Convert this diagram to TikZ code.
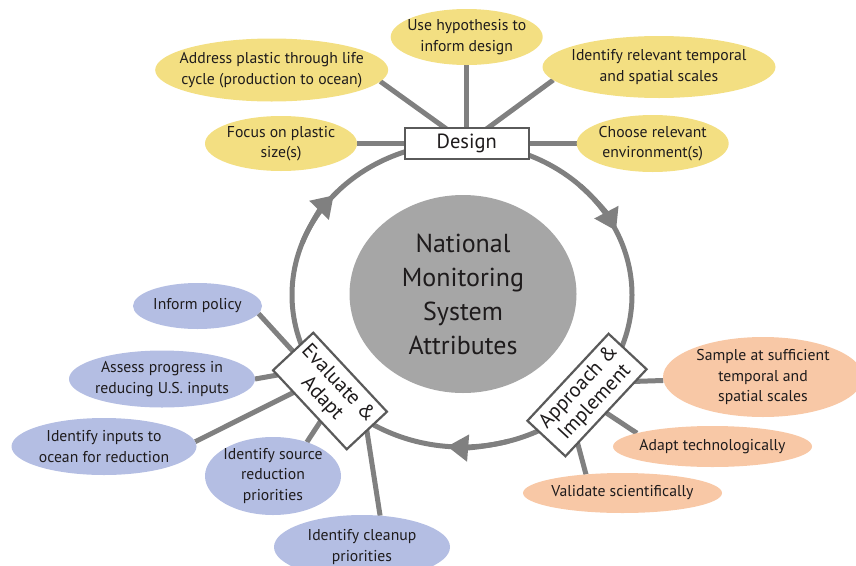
\documentclass[tikz,border=0pt]{standalone}
\usepackage{fontspec}
\setmainfont{PT Sans}
\usetikzlibrary{shapes.geometric,arrows.meta,calc,backgrounds}
\definecolor{yel}{RGB}{243,223,130}
\definecolor{blu}{RGB}{180,190,227}
\definecolor{org}{RGB}{248,200,166}
\definecolor{lgray}{RGB}{128,128,128}
\definecolor{cgray}{RGB}{166,166,166}
\definecolor{bgray}{RGB}{90,90,90}
\definecolor{txt}{RGB}{30,27,28}
\tikzset{
  bub/.style={ellipse, inner xsep=-300pt, inner ysep=-100pt, outer sep=0pt, align=center,
    text=txt, font=\fontsize{15.7}{20.5}\selectfont},
  ybub/.style={bub, fill=yel},
  bbub/.style={bub, fill=blu},
  obub/.style={bub, fill=org},
  conn/.style={draw=lgray, line width=5pt, shorten >=-3pt},
  ring/.style={draw=lgray, line width=5pt},
  ringarrow/.style={ring, -{Triangle[length=21pt,width=26pt]}},
  stagebox/.style={rectangle, draw=bgray, line width=2.2pt, fill=white, inner sep=0pt,
    outer sep=0pt, align=center, text=txt, font=\fontsize{20.5}{22}\selectfont},
  hub/.style={ellipse, fill=cgray, inner xsep=-300pt, inner ysep=-100pt, align=center,
    text=txt, font=\fontsize{26}{34}\selectfont},
}
\begin{document}
\begin{tikzpicture}[x=1pt,y=-1pt]
\useasboundingbox (0,0) rectangle (856,565);
\clip (0,0) rectangle (856,565);
\coordinate (rc) at (462,295);

% centre
\node[hub, minimum width=227pt, minimum height=198pt] (hubn) at (463,294)
  {National\\Monitoring\\System\\Attributes};

% stage boxes
\node[stagebox, minimum width=124pt, minimum height=31pt] (design) at (466.7,143.5) {Design};
\node[stagebox, minimum width=108pt, minimum height=55pt, rotate=-47] (ev) at (330,391)
  {Evaluate \&\\Adapt};
\node[stagebox, minimum width=119pt, minimum height=52pt, rotate=47] (ap) at (587,395)
  {Approach \&\\Implement};

% design bubbles
\node[ybub, minimum width=152pt, minimum height=56pt] (hyp) at (466.7,37) {Use hypothesis to\\inform design};
\node[ybub, minimum width=233pt, minimum height=63pt] (addr) at (271.7,70) {Address plastic through life\\cycle (production to ocean)};
\node[ybub, minimum width=233pt, minimum height=62pt] (idrel) at (659,67) {Identify relevant temporal\\and spatial scales};
\node[ybub, minimum width=152pt, minimum height=55pt] (focus) at (281,143.5) {Focus on plastic\\size(s)};
\node[ybub, minimum width=152pt, minimum height=57pt] (choose) at (652.7,143.5) {Choose relevant\\environment(s)};

% evaluate bubbles
\node[bbub, minimum width=129pt, minimum height=46pt] (pol) at (197.5,306) {Inform policy};
\node[bbub, minimum width=186pt, minimum height=57pt] (ass) at (162,379) {Assess progress in\\reducing U.S. inputs};
\node[bbub, minimum width=185pt, minimum height=57pt] (inp) at (104,446.5) {Identify inputs to\\ocean for reduction};
\node[bbub, minimum width=136pt, minimum height=78pt] (src) at (273,476) {Identify source\\reduction\\priorities};
\node[bbub, minimum width=176pt, minimum height=64pt] (clean) at (362,547) {Identify cleanup\\priorities};

% approach bubbles
\node[obub, minimum width=200pt, minimum height=80pt] (samp) at (763,377) {Sample at sufficient\\temporal and\\spatial scales};
\node[obub, minimum width=199pt, minimum height=41pt] (tech) at (712.5,446.5) {Adapt technologically};
\node[obub, minimum width=199pt, minimum height=40pt] (val) at (622.5,493) {Validate scientifically};

\begin{pgfonlayer}{background}
  \draw[ring] (rc) ellipse [x radius=170, y radius=152];
  \draw[ringarrow] ($(rc)+(200:170 and 152)$) arc[start angle=200, end angle=221, x radius=170, y radius=152];
  \draw[ringarrow] ($(rc)+(314:170 and 152)$) arc[start angle=314, end angle=335, x radius=170, y radius=152];
  \draw[ringarrow] ($(rc)+(74:170 and 152)$) arc[start angle=74, end angle=95, x radius=170, y radius=152];

  \draw[conn] (hyp) -- (design);
  \draw[conn] (addr.-6) -- (design.center);
  \draw[conn] (idrel.187) -- (design.center);
  \draw[conn] (focus) -- (design);
  \draw[conn] (choose) -- (design);

  \draw[conn] (pol.-7) -- (ev.west);
  \draw[conn] (ass.east) -- ($(ev.south west)!0.06!(ev.south east)$);
  \draw[conn] (inp.3) -- ($(ev.south west)!0.28!(ev.south east)$);
  \draw[conn] (src.45) -- ($(ev.south west)!0.645!(ev.south east)$);
  \draw[conn] (clean.60) -- (ev.east);

  \draw[conn] (samp.182) -- ($(ap.south)!0.72!(ap.south east)$);
  \draw[conn] (tech.170) -- (ap.south);
  \draw[conn] (val.153) -- ($(ap.south west)!0.3!(ap.south)$);
\end{pgfonlayer}
\end{tikzpicture}
\end{document}
